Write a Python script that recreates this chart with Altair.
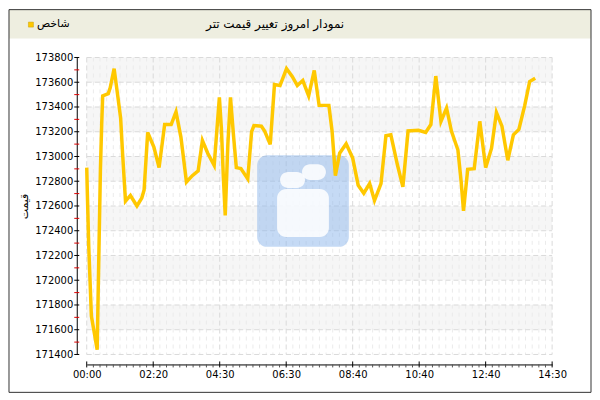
import altair as alt
import pandas as pd

# position on the time axis (10 slots between labelled ticks) and price
slot = [0, 0.1, 0.3, 0.7, 1.2, 1.57, 1.76, 2.06, 2.25, 2.4, 3.24, 3.53, 4.12, 4.6,
        5.1, 5.39, 5.83, 6.57, 7.55, 8.28, 8.63, 9.17, 10.1, 10.88, 11.72, 12.7,
        13.43, 14.17, 15.0, 15.88, 16.76, 17.4, 18.2, 19.17, 19.95, 20.25, 20.54,
        20.83, 21.23, 21.62, 22.1, 22.5, 23.19, 24.22, 24.8, 25.15, 26.27, 26.76,
        27.6, 28.24, 29.07, 30.05, 30.93, 31.67, 32.5, 33.38, 34.22, 34.95, 36.42,
        36.9, 37.4, 38.04, 39.02, 40.0, 40.83, 41.67, 42.55, 43.28, 44.26, 45.0,
        45.74, 46.72, 47.55, 48.33, 49.9, 50.98, 51.76, 52.5, 53.28, 54.12, 54.85,
        55.83, 56.32, 56.67, 57.3, 58.28, 59.12, 60.0, 60.88, 61.62, 62.45, 63.33,
        64.17, 65.0, 65.88, 66.62, 67.45]
price = [172910, 172690, 172277, 171710, 171555, 171439, 172019, 172897, 173258,
         173490, 173508, 173555, 173710, 173516, 173310, 173026, 172639, 172685,
         172600, 172665, 172729, 173194, 173077, 172910, 173258, 173258, 173361,
         173155, 172794, 172845, 172884, 173129, 173026, 172928, 173477, 173232,
         172845, 172523, 173103, 173477, 173155, 172910, 172902, 172819, 173201,
         173250, 173245, 173206, 173098, 173581, 173573, 173710, 173645, 173573,
         173614, 173490, 173695, 173413, 173413, 173206, 172845, 173026, 173103,
         172987, 172768, 172703, 172781, 172644, 172781, 173168, 173175, 172935,
         172755, 173206, 173212, 173194, 173258, 173650, 173284, 173392, 173206,
         173052, 172794, 172561, 172897, 172902, 173284, 172910, 173065, 173355,
         173245, 172969, 173175, 173219, 173413, 173606, 173632]

time_labels = ["00:00", "02:20", "04:30", "06:30", "08:40", "10:40", "12:40", "14:30"]
major_x = [0, 10, 20, 30, 40, 50, 60, 70]
minor_x = [i for i in range(71) if i % 10]
y_ticks = list(range(171400, 173801, 200))
y_minor = list(range(171500, 173800, 200))
band_low = [171600, 172000, 172400, 172800, 173200, 173600]

title_text = "نمودار امروز تغییر قیمت تتر"
legend_text = "شاخص"
y_title = "قیمت"

W, H = 467, 298
FONT = "DejaVu Sans"
LINE = "#FFC800"

df = pd.DataFrame({"slot": slot, "price": price})
one = pd.DataFrame({"k": [0]})

xs = alt.Scale(domain=[0, 70], nice=False, zero=False)
ys = alt.Scale(domain=[171400, 173800], nice=False, zero=False)

label_expr = "[" + ",".join(f"'{t}'" for t in time_labels) + "][round(datum.value / 10)]"

x_axis = alt.Axis(
    values=major_x, labelExpr=label_expr, offset=10, ticks=False, grid=False,
    domainColor="black", labelColor="black", labelFont=FONT, labelFontSize=10,
    labelPadding=5, labelFlush=False, title=None)
y_axis = alt.Axis(
    values=y_ticks, format="d", offset=10, ticks=False, grid=False,
    domainColor="black", labelColor="black", labelFont=FONT, labelFontSize=10,
    labelPadding=4, title=y_title, titleFont=FONT, titleFontSize=11,
    titleFontWeight="normal", titleColor="black", titlePadding=5)


def X(f):
    return alt.X(f, scale=xs, axis=x_axis)


def Y(f):
    return alt.Y(f, scale=ys, axis=y_axis)


def box(x, x2, y, y2, **kw):
    return alt.Chart(one).mark_rect(**kw).encode(
        x=alt.value(x), x2=alt.value(x2), y=alt.value(y), y2=alt.value(y2))


def label(x, y, text, **kw):
    return alt.Chart(one).mark_text(font=FONT, color="black", **kw).encode(
        x=alt.value(x), y=alt.value(y), text=alt.value(text))


bands = alt.Chart(pd.DataFrame({"lo": band_low, "hi": [b + 200 for b in band_low]})).mark_rect(
    color="#F6F6F6").encode(
    x=alt.value(0), x2=alt.value(W), y=Y("lo:Q"), y2="hi:Q")

minor_grid = alt.Chart(pd.DataFrame({"u": minor_x})).mark_rule(
    color="#EBEBEB", strokeDash=[4, 4], strokeWidth=1).encode(
    x=X("u:Q"), y=alt.value(0), y2=alt.value(H))

h_grid = alt.Chart(pd.DataFrame({"v": y_ticks})).mark_rule(
    color="#DADADA", strokeDash=[5, 3]).encode(
    y=Y("v:Q"), x=alt.value(0), x2=alt.value(W))

v_grid = alt.Chart(pd.DataFrame({"u": major_x})).mark_rule(
    color="#DADADA", strokeDash=[5, 3]).encode(
    x=X("u:Q"), y=alt.value(0), y2=alt.value(H))

# faint logo watermark
logo = alt.layer(
    box(171, 263, 98, 190, color="#8BB5EB", opacity=0.5, cornerRadius=10),
    box(194, 219, 115, 131, color="white", opacity=0.85, cornerRadius=8),
    box(216, 240, 107, 123, color="white", opacity=0.85, cornerRadius=8),
    box(191, 243, 132, 180, color="white", opacity=0.85, cornerRadius=9),
)

line = alt.Chart(df).mark_line(color=LINE, strokeWidth=3.5).encode(
    x=X("slot:Q"), y=Y("price:Q"))

y_major_ticks = alt.Chart(pd.DataFrame({"v": y_ticks})).mark_rule(color="black").encode(
    y=Y("v:Q"), x=alt.value(-12.5), x2=alt.value(-7.5))
y_minor_ticks = alt.Chart(pd.DataFrame({"v": y_minor})).mark_rule(color="#E00000").encode(
    y=Y("v:Q"), x=alt.value(-12.5), x2=alt.value(-7.5))
x_major_ticks = alt.Chart(pd.DataFrame({"u": major_x})).mark_rule(color="black").encode(
    x=X("u:Q"), y=alt.value(H + 7), y2=alt.value(H + 13))
x_minor_ticks = alt.Chart(pd.DataFrame({"u": minor_x})).mark_rule(color="#555555").encode(
    x=X("u:Q"), y=alt.value(H + 10), y2=alt.value(H + 13))

header = box(-78, 506, -48, -19, color="#EEEEE0")
title = label(189, -33.5, title_text, fontSize=12, align="center", baseline="middle")
legend_box = box(-58.5, -53.5, -35.5, -30.5, color=LINE, stroke="#C8A000", strokeWidth=0.5)
legend_lbl = label(-50, -33.5, legend_text, fontSize=11, align="left", baseline="middle")
frame = box(-78, 506, -48, 336, fill=None, stroke="#333333", strokeWidth=1)

chart = alt.layer(
    bands, minor_grid, h_grid, v_grid, logo, line,
    y_major_ticks, y_minor_ticks, x_major_ticks, x_minor_ticks,
    header, title, legend_box, legend_lbl, frame,
).properties(
    width=W, height=H, padding=0, background="white"
).configure_view(stroke=None)

chart.save("out.html", embed_options={"renderer": "svg", "actions": False})
